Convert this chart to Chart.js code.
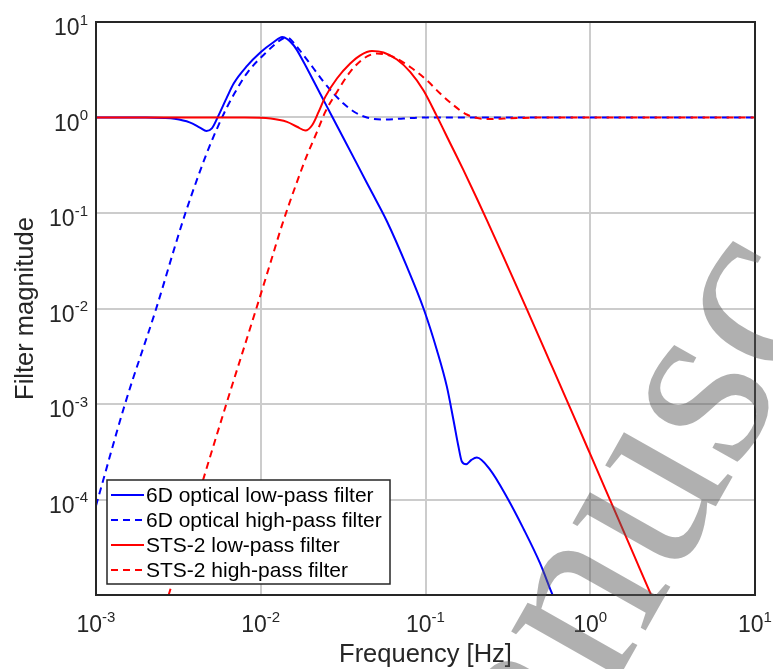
<!DOCTYPE html>
<html>
<head>
<meta charset="utf-8">
<script src="https://cdn.jsdelivr.net/npm/chart.js@4.4.0/dist/chart.umd.min.js"></script>
<style>
  html, body { margin: 0; padding: 0; background: #fff; }
</style>
</head>
<body>
<canvas id="FilterCanvas" width="773" height="669"></canvas>
<script>
// values: frequency [Hz] and filter magnitude
const freqLowOptical = [0.001, 0.002, 0.0026, 0.003, 0.0037, 0.0043, 0.00468, 0.00505, 0.00547, 0.00625, 0.00685, 0.00826, 0.00994, 0.012, 0.0135, 0.01583, 0.0182, 0.02093, 0.02406, 0.02706, 0.0318, 0.03837, 0.0462, 0.0583, 0.0771, 0.0973, 0.1172, 0.1348, 0.1478, 0.1585, 0.1662, 0.1765, 0.19, 0.205, 0.247, 0.3115, 0.393, 0.4962, 0.584, 0.66];
const magLowOptical = [1, 1, 0.99, 0.97, 0.89, 0.78, 0.724, 0.77, 1.0, 1.643, 2.27, 3.47, 4.79, 6.17, 6.97, 5.71, 3.82, 2.41, 1.52, 1.03, 0.607, 0.327, 0.177, 0.082, 0.0274, 0.01, 0.00368, 0.00152, 6.8e-4, 3.59e-4, 2.5e-4, 2.34e-4, 2.6e-4, 2.75e-4, 2.04e-4, 1.06e-4, 4.95e-5, 2.14e-5, 1.05e-5, 6.4e-6];

const freqHighOptical = [0.001, 0.0015, 0.00232, 0.00303, 0.00349, 0.00411, 0.00483, 0.0057, 0.00625, 0.00685, 0.00826, 0.0104, 0.0138, 0.0144, 0.0163, 0.0182, 0.02093, 0.02406, 0.02767, 0.0318, 0.0375, 0.0441, 0.0556, 0.0735, 0.0973, 0.3, 1, 10];
const magHighOptical = [8.6e-5, 1e-3, 0.01, 0.046, 0.1, 0.226, 0.476, 0.925, 1.29, 1.73, 2.92, 4.52, 6.8, 6.92, 5.71, 4.48, 3.26, 2.36, 1.78, 1.4, 1.128, 1.0, 0.953, 0.976, 1, 1, 1, 1];

const freqLowSts = [0.001, 0.008, 0.0115, 0.01443, 0.0166, 0.01865, 0.0205, 0.02245, 0.02464, 0.029, 0.0349, 0.0402, 0.0473, 0.0556, 0.0671, 0.0807, 0.0973, 0.117, 0.1412, 0.17, 0.205, 0.241, 0.297, 0.412, 0.57, 0.79, 1.0, 1.32, 1.825, 2.36, 2.65];
const magLowSts = [1, 1, 0.976, 0.9, 0.8, 0.73, 0.83, 1.144, 1.643, 2.56, 3.67, 4.48, 4.97, 4.79, 4.05, 3.01, 1.92, 1.04, 0.538, 0.281, 0.142, 0.0774, 0.035, 0.00984, 2.75e-3, 7.6e-4, 2.98e-4, 9.86e-5, 2.71e-5, 9.7e-6, 6.2e-6];

const freqHighSts = [0.0025, 0.00276, 0.00447, 0.00618, 0.0094, 0.0117, 0.01346, 0.0166, 0.0191, 0.02195, 0.02464, 0.029, 0.0349, 0.0421, 0.0507, 0.064, 0.0807, 0.102, 0.1228, 0.1478, 0.178, 0.2146, 0.2585, 0.326, 0.5, 10];
const magHighSts = [5.7e-6, 1e-5, 1.61e-4, 1e-3, 0.01, 0.034, 0.0747, 0.212, 0.403, 0.707, 1.144, 1.85, 3.0, 4.14, 4.67, 4.3, 3.38, 2.45, 1.78, 1.345, 1.075, 0.976, 0.965, 0.98, 1, 1];

const seriesLabels = ["6D optical low-pass filter", "6D optical high-pass filter", "STS-2 low-pass filter", "STS-2 high-pass filter"];

// decade ticks / gridlines
const xDecades = [1e-3, 1e-2, 1e-1, 1, 10];
const xTickExponents = ["-3", "-2", "-1", "0", "1"];
const yDecades = [1e-5, 1e-4, 1e-3, 1e-2, 1e-1, 1, 10];
const yTickExponents = ["", "-4", "-3", "-2", "-1", "0", "1"];

const FONT = '"Liberation Sans", Arial, sans-serif';
const TEXT_COLOR = '#262626';

function toPoints(freq, mag) {
    return freq.map((f, i) => ({ x: f, y: mag[i] }));
}

function drawPower(ctx, exponent, x, y, align) {
    ctx.font = `23px ${FONT}`;
    const wBase = ctx.measureText('10').width;
    ctx.font = `15px ${FONT}`;
    const wExp = ctx.measureText(exponent).width;
    const left = align === 'center' ? x - (wBase + wExp) / 2 : x - (wBase + wExp);
    ctx.textAlign = 'left';
    ctx.textBaseline = 'alphabetic';
    ctx.fillStyle = TEXT_COLOR;
    ctx.font = `23px ${FONT}`;
    ctx.fillText('10', left, y);
    ctx.font = `15px ${FONT}`;
    ctx.fillText(exponent, left + wBase, y - 10.5);
}

const decorations = {
    id: 'decorations',
    afterDraw(chart) {
        const ctx = chart.ctx;
        const area = chart.chartArea;
        const xScale = chart.scales.x;
        const yScale = chart.scales.y;
        ctx.save();

        // legend, lower left inside the axes
        const lx = area.left + 11, ly = area.bottom - 115, lw = 283, lh = 104;
        ctx.fillStyle = '#fff';
        ctx.fillRect(lx, ly, lw, lh);
        ctx.strokeStyle = TEXT_COLOR;
        ctx.lineWidth = 1.5;
        ctx.strokeRect(lx, ly, lw, lh);
        chart.data.datasets.forEach((ds, i) => {
            const rowY = ly + 15 + i * 25;
            ctx.strokeStyle = ds.borderColor;
            ctx.lineWidth = 2;
            ctx.setLineDash(ds.borderDash || []);
            ctx.beginPath();
            ctx.moveTo(lx + 4, rowY);
            ctx.lineTo(lx + 37, rowY);
            ctx.stroke();
            ctx.setLineDash([]);
            ctx.fillStyle = '#000';
            ctx.font = `21px ${FONT}`;
            ctx.textAlign = 'left';
            ctx.textBaseline = 'middle';
            ctx.fillText(ds.label, lx + 39, rowY + 1);
        });

        // axes box
        ctx.strokeStyle = TEXT_COLOR;
        ctx.lineWidth = 2;
        ctx.strokeRect(area.left, area.top, area.right - area.left, area.bottom - area.top);

        // tick labels
        xDecades.forEach((v, i) => {
            drawPower(ctx, xTickExponents[i], xScale.getPixelForValue(v), area.bottom + 37, 'center');
        });
        yDecades.forEach((v, i) => {
            if (!yTickExponents[i]) return;
            drawPower(ctx, yTickExponents[i], area.left - 8, yScale.getPixelForValue(v) + 13, 'right');
        });

        // axis titles
        ctx.fillStyle = TEXT_COLOR;
        ctx.font = `25.5px ${FONT}`;
        ctx.textAlign = 'center';
        ctx.textBaseline = 'alphabetic';
        ctx.fillText('Frequency [Hz]', (area.left + area.right) / 2, 662);
        ctx.save();
        ctx.translate(33, (area.top + area.bottom) / 2);
        ctx.rotate(-Math.PI / 2);
        ctx.fillText('Filter magnitude', 0, 0);
        ctx.restore();

        // watermark (only the letters that fall on the figure)
        ctx.save();
        ctx.translate(457, 964);
        ctx.rotate(-60.5 * Math.PI / 180);
        ctx.font = '254px "Liberation Serif", "DejaVu Serif", serif';
        ctx.fillStyle = 'rgba(90, 90, 90, 0.48)';
        ctx.textAlign = 'left';
        ctx.textBaseline = 'alphabetic';
        ctx.fillText('manusc', 0, 0);
        ctx.restore();

        ctx.restore();
    }
};

const data = {
    datasets: [
        {
            label: seriesLabels[0],
            data: toPoints(freqLowOptical, magLowOptical),
            borderColor: '#0000ff',
            borderWidth: 2,
            order: 4
        },
        {
            label: seriesLabels[1],
            data: toPoints(freqHighOptical, magHighOptical),
            borderColor: '#0000ff',
            borderWidth: 2,
            borderDash: [7, 5],
            order: 3
        },
        {
            label: seriesLabels[2],
            data: toPoints(freqLowSts, magLowSts),
            borderColor: '#ff0000',
            borderWidth: 2,
            order: 2
        },
        {
            label: seriesLabels[3],
            data: toPoints(freqHighSts, magHighSts),
            borderColor: '#ff0000',
            borderWidth: 2,
            borderDash: [7, 5],
            order: 1
        }
    ]
};

const gridStyle = { color: '#cccccc', lineWidth: 2, drawTicks: false };

const myChartFilters = new Chart(document.getElementById("FilterCanvas").getContext("2d"), {
    type: 'line',
    data: data,
    options: {
        responsive: false,
        devicePixelRatio: 1,
        animation: false,
        layout: { padding: { left: 96, top: 22, right: 18, bottom: 74 } },
        elements: {
            point: { radius: 0, hoverRadius: 0 },
            line: { fill: false, cubicInterpolationMode: 'monotone' }
        },
        plugins: {
            legend: { display: false },
            tooltip: { enabled: false }
        },
        scales: {
            x: {
                type: 'logarithmic',
                min: 1e-3,
                max: 10,
                afterBuildTicks: axis => { axis.ticks = xDecades.map(v => ({ value: v })); },
                grid: gridStyle,
                border: { display: false },
                ticks: { display: false }
            },
            y: {
                type: 'logarithmic',
                min: 1e-5,
                max: 10,
                afterBuildTicks: axis => { axis.ticks = yDecades.map(v => ({ value: v })); },
                grid: gridStyle,
                border: { display: false },
                ticks: { display: false }
            }
        }
    },
    plugins: [decorations]
});
</script>
</body>
</html>
